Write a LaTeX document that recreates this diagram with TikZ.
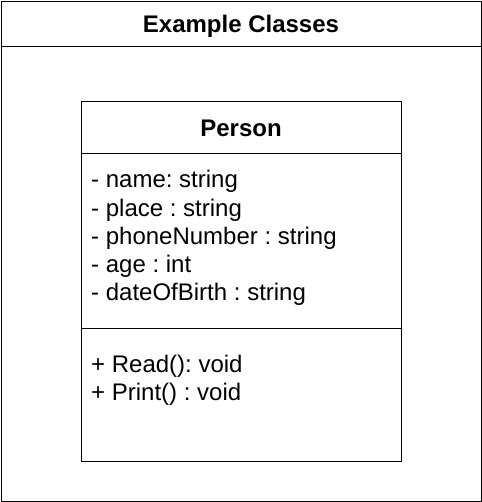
\documentclass[tikz,border=0pt]{standalone}
\usepackage{fontspec}
\setmainfont{Liberation Sans}
\frenchspacing
\usetikzlibrary{positioning}
\tikzset{x=1bp, y=-1bp,
line width=2bp, % every outline is drawn this thick
box/.style={draw, rectangle, inner sep=0pt}, % frames of the diagram and the class
heading/.style={font=\fontsize{24bp}{28bp}\selectfont\bfseries, inner sep=0pt},
member/.style={font=\fontsize{24bp}{28bp}\selectfont, inner sep=0pt, anchor=base west},
}
\begin{document}
\begin{tikzpicture}
\useasboundingbox (0,0) rectangle (482,502);
% outer frame with its title bar
\node[box, minimum width=480bp, minimum height=500bp] (frame) at (241,251) {};
\node[box, minimum width=480bp, minimum height=45.5bp, anchor=north] (titlebar) at (frame.north) {};
\node[heading] (title) at ([yshift=-2.5bp]titlebar.center) {Example Classes};
% the class box
\node[box, minimum width=320bp, minimum height=360bp] (person) at (241,281) {};
\node[box, minimum width=320bp, minimum height=52bp, anchor=north] (head) at (person.north) {};
\node[heading] (name) at ([yshift=-1.5bp]head.center) {Person};
\coordinate (sep) at (81,328.5);
\draw (sep) -- (sep -| person.east);
% attributes
\foreach \t [count=\i from 0] in {{- name: string}, {- place : string}, {- phoneNumber : string}, {- age : int}, {- dateOfBirth : string}}
  \node[member] (attr\i) at (91,188+28*\i) {\t};
% methods
\node[member] (op0) at (91,372) {+ Read(): void};
\node[member] (op1) at (91,400) {+ Print() : void};
\end{tikzpicture}
\end{document}
